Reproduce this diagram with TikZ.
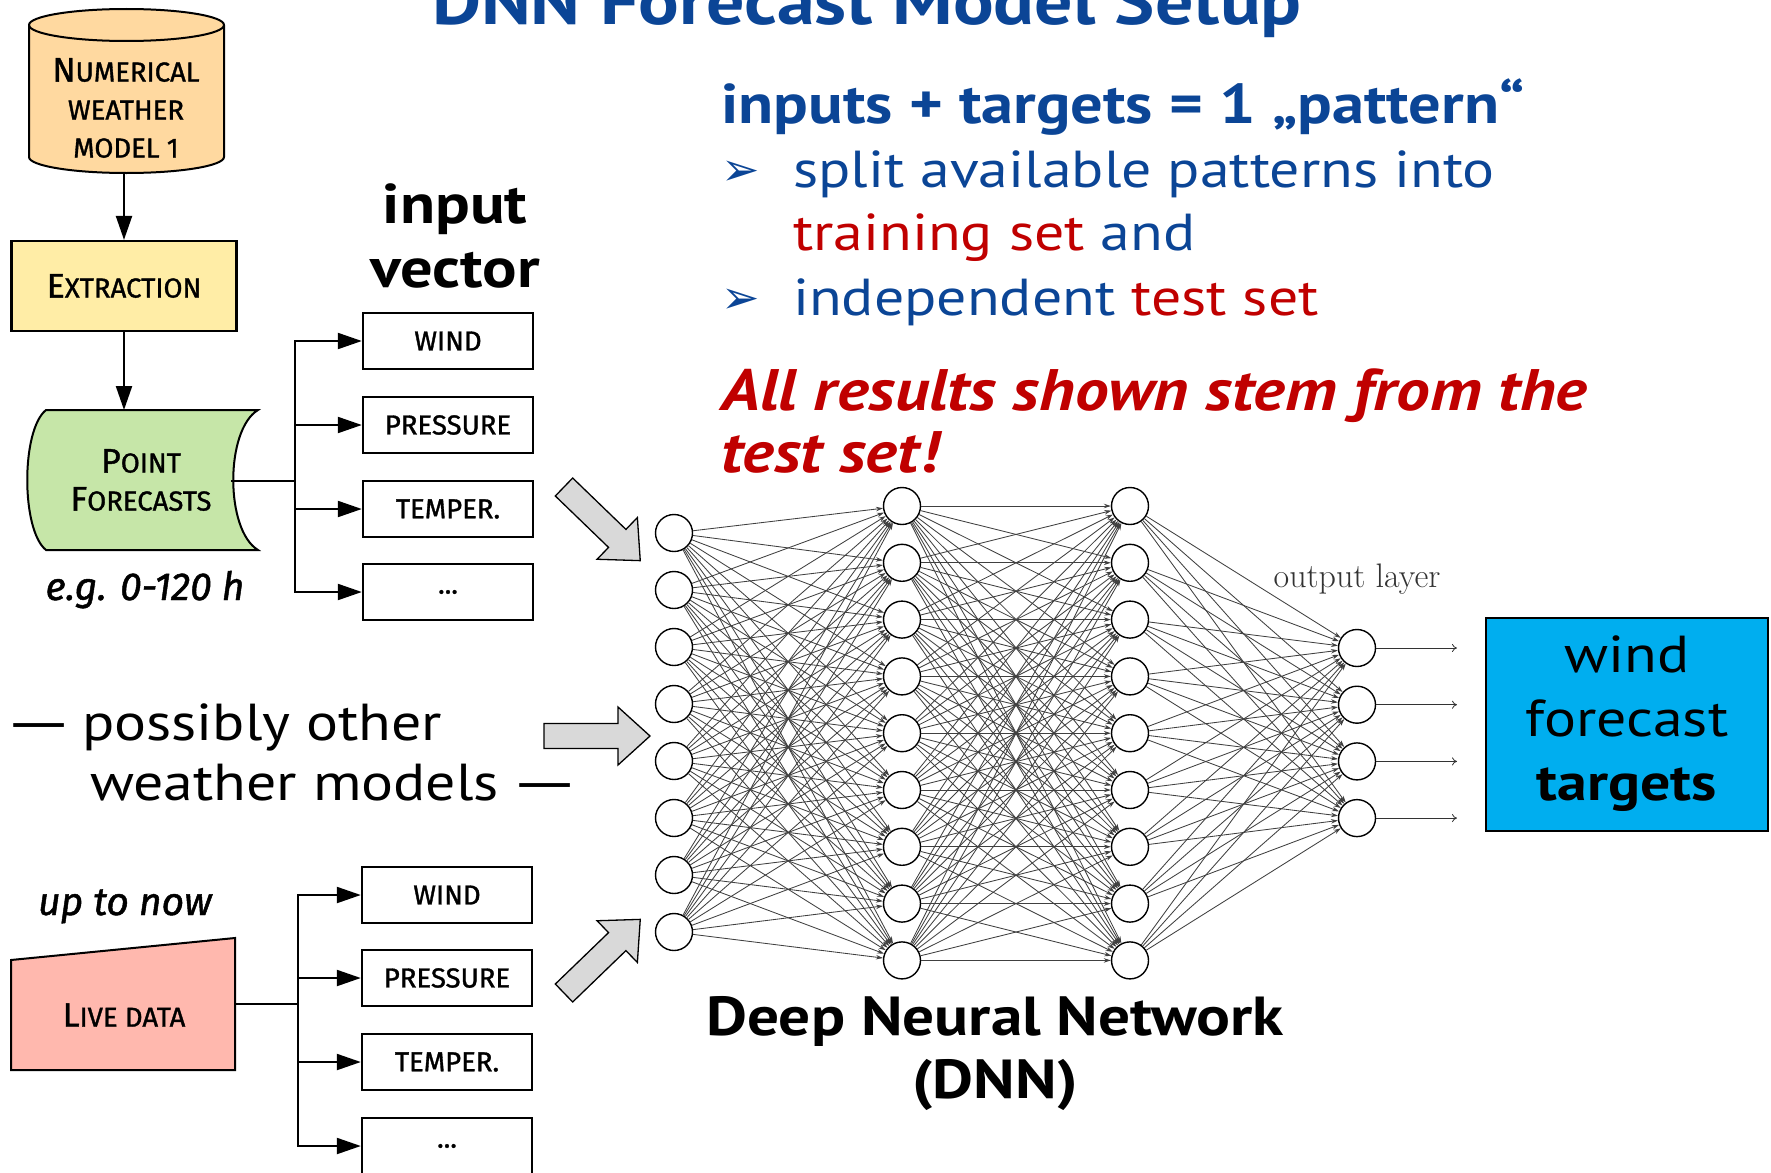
\documentclass[tikz,border=0pt]{standalone}
\usepackage{fontspec}
\usetikzlibrary{arrows.meta,positioning}
\newfontfamily\slidefont[FakeStretch=1.15]{PT Sans}
\newfontfamily\comicfont[FakeBold=1.2]{Fira Sans}
\newfontfamily\symbfont{DejaVu Sans}
\definecolor{dnnblue}{HTML}{0B4596}
\definecolor{dnnred}{HTML}{C00000}
\definecolor{nwmfill}{HTML}{FFD9A0}
\definecolor{extrfill}{HTML}{FFEDA6}
\definecolor{pffill}{HTML}{C6E6A8}
\definecolor{livefill}{HTML}{FFB8AE}
\definecolor{targetfill}{HTML}{00AEEF}
\newcommand\capsize[1]{{\fontsize{34}{34}\selectfont #1}}
\newcommand\longdash{\scalebox{1.45}[1]{—}}

\tikzset{
  comic/.style={font=\comicfont\fontsize{27.5}{38}\selectfont, align=center, inner sep=0pt},
  handy/.style={font=\comicfont\itshape\fontsize{39}{39}\selectfont, inner sep=0pt},
  invec/.style={draw, line width=2.4pt, minimum width=170pt, minimum height=56pt, comic},
  flow/.style={line width=2.2pt, -{Triangle[length=24pt,width=16pt]}},
  neuron/.style={circle, draw, line width=1.4pt, fill=white, minimum size=37pt, inner sep=0pt},
  synapse/.style={line width=0.85pt, black!75, -{Stealth[length=7pt,width=4.5pt]}},
  slide/.style={font=\slidefont\fontsize{52}{64}\selectfont, inner sep=0pt},
  bullet/.style={font=\symbfont\fontsize{46}{46}\selectfont, text=dnnblue, inner sep=0pt},
  pics/fatarrow/.style={code={
    \draw[fill=black!15, line width=1.3pt] (0,-12.5) -- ({#1-32},-12.5) -- ({#1-32},-29)
      -- (#1,0) -- ({#1-32},29) -- ({#1-32},12.5) -- (0,12.5) -- cycle;}}
}

\begin{document}
\begin{tikzpicture}[x=1pt,y=-1pt]
\clip (0,0) rectangle (1771,1172);

% title, cut by the top edge
\node[font=\slidefont\bfseries\fontsize{66}{66}\selectfont, text=dnnblue, anchor=base, inner sep=0pt] (title) at (867,25) {DNN Forecast Model Setup};

% numerical weather model
\draw[fill=nwmfill, line width=2pt] (29,25) -- (29,157) arc[start angle=180, end angle=360, x radius=97.5pt, y radius=16pt]
  -- (224,25) arc[start angle=0, end angle=180, x radius=97.5pt, y radius=16pt] -- cycle;
\draw[line width=2pt] (29,25) arc[start angle=180, end angle=360, x radius=97.5pt, y radius=16pt];
\node[comic] (nwm) at (126,108) {\capsize{N}UMERICAL\\WEATHER\\MODEL 1};
\coordinate (nwmbottom) at (124,173);

\node[draw, fill=extrfill, line width=2.2pt, minimum width=225pt, minimum height=90pt, comic] (extr) at (124,286) {\capsize{E}XTRACTION};
\draw[flow] (nwmbottom) -- (extr.north);

% point forecasts
\draw[fill=pffill, line width=2pt] (46,410) -- (258,410) .. controls (225,430) and (225,530) .. (258,550)
  -- (46,550) .. controls (21,530) and (21,430) .. (46,410) -- cycle;
\node[comic] (pf) at (141,480) {\capsize{P}OINT\\\capsize{F}ORECASTS};
\coordinate (pftop) at (124,410);
\draw[flow] (extr.south) -- (pftop);
\node[handy, anchor=base] (range) at (145,600) {e.g. 0-120 h};

% input vector from the forecasts
\node[invec] (wind1) at (448,341) {WIND};
\node[invec] (pres1) at (448,425) {PRESSURE};
\node[invec] (temp1) at (448,509) {TEMPER.};
\node[invec] (more1) at (448,592) {...};
\coordinate (pfout) at (231,481);
\coordinate (bus1) at (295,481);
\foreach \b in {wind1,pres1,temp1,more1}
  \draw[flow] (pfout) -- (bus1) |- (\b.west);

\node[font=\slidefont\bfseries\fontsize{56}{56}\selectfont, anchor=base, inner sep=0pt] (invec1) at (455,223) {input};
\node[font=\slidefont\bfseries\fontsize{56}{56}\selectfont, anchor=base, inner sep=0pt] (invec2) at (455,287) {vector};

% other models
\node[slide, anchor=base west] (other1) at (3,740) {\longdash\hspace{0.15em}possibly other};
\node[slide, anchor=base west] (other2) at (90,800) {weather models\hspace{0.2em}\longdash};

% live data
\node[handy, anchor=base] (uptonow) at (125,915) {up to now};
\draw[fill=livefill, line width=2pt] (11,1070) -- (11,960) -- (235,938) -- (235,1070) -- cycle;
\node[comic] (live) at (124,1015) {\capsize{L}IVE DATA};
\node[invec] (wind2) at (447,895) {WIND};
\node[invec] (pres2) at (447,978) {PRESSURE};
\node[invec] (temp2) at (447,1062) {TEMPER.};
\node[invec] (more2) at (447,1146) {...};
\coordinate (liveout) at (235,1004);
\coordinate (bus2) at (298,1004);
\foreach \b in {wind2,pres2,temp2,more2}
  \draw[flow] (liveout) -- (bus2) |- (\b.west);

% grey arrows into the net
\pic[rotate=-44] at (564,487) {fatarrow=106};
\pic at (544,736) {fatarrow=106};
\pic[rotate=44] at (564,993) {fatarrow=106};

% deep neural network
\foreach \k in {1,...,8}
  \node[neuron] (i\k) at (674,{533+57*(\k-1)}) {};
\foreach \k in {1,...,9} {
  \node[neuron] (h\k) at (902,{506+56.8*(\k-1)}) {};
  \node[neuron] (g\k) at (1130,{506+56.8*(\k-1)}) {};
}
\foreach \k in {1,...,4}
  \node[neuron] (o\k) at (1357,{648+56.7*(\k-1)}) {};
\foreach \a in {1,...,8}
  \foreach \b in {1,...,9}
    \draw[synapse] (i\a) -- (h\b);
\foreach \a in {1,...,9}
  \foreach \b in {1,...,9}
    \draw[synapse] (h\a) -- (g\b);
\foreach \a in {1,...,9}
  \foreach \b in {1,...,4}
    \draw[synapse] (g\a) -- (o\b);
\foreach \k in {1,...,4} {
  \coordinate (out\k) at (1457,{648+56.7*(\k-1)});
  \draw[line width=0.8pt, black!80, -{To[length=5pt,width=8pt]}] (o\k) -- (out\k);
}
\node[font=\fontsize{34}{34}\selectfont, text=black!80, anchor=base, inner sep=0pt] (outlabel) at (1357,587) {output layer};

\node[font=\slidefont\bfseries\fontsize{55}{55}\selectfont, anchor=base, inner sep=0pt] (dnn1) at (995,1035) {Deep Neural Network};
\node[font=\slidefont\bfseries\fontsize{55}{55}\selectfont, anchor=base, inner sep=0pt] (dnn2) at (995,1098) {(DNN)};

% targets
\node[draw, line width=2pt, fill=targetfill, minimum width=282pt, minimum height=213pt,
  font=\slidefont\fontsize{52}{64}\selectfont, align=center] (target) at (1627,724) {wind\\forecast\\\textbf{targets}};

% pattern text
\node[slide, font=\slidefont\bfseries\fontsize{56}{56}\selectfont, text=dnnblue, anchor=base west] (pattern) at (721,123) {inputs + targets = 1 „pattern“};
\node[bullet, anchor=base west] (bul1) at (721,185) {➢};
\node[slide, text=dnnblue, anchor=base west] (split) at (793,187) {split available patterns into};
\node[slide, text=dnnblue, anchor=base west] (training) at (793,250) {\textcolor{dnnred}{training set} and};
\node[bullet, anchor=base west] (bul2) at (721,313) {➢};
\node[slide, text=dnnblue, anchor=base west] (indep) at (793,315) {independent \textcolor{dnnred}{test set}};
\node[slide, font=\slidefont\bfseries\itshape\fontsize{58.5}{58.5}\selectfont, text=dnnred, anchor=base west] (allres) at (721,410) {All results shown stem from the};
\node[slide, font=\slidefont\bfseries\itshape\fontsize{58.5}{58.5}\selectfont, text=dnnred, anchor=base west] (testset) at (721,472) {test set!};
\end{tikzpicture}
\end{document}
